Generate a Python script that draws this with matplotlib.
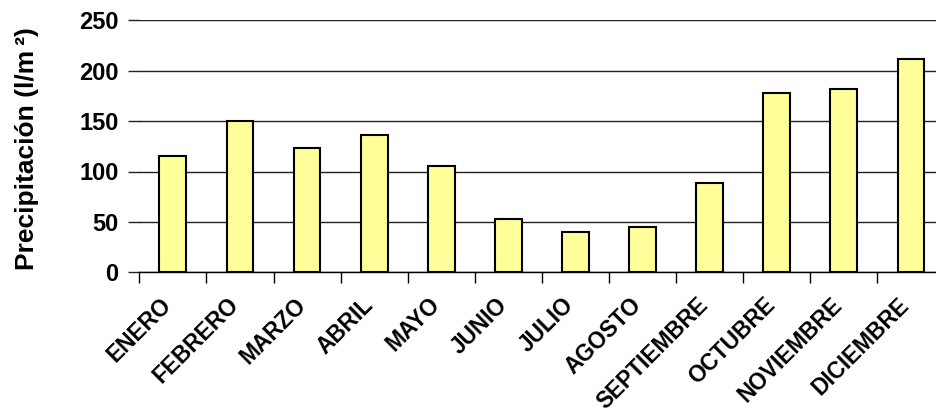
import matplotlib
matplotlib.use("Agg")
import matplotlib.pyplot as plt
import matplotlib.transforms as mtransforms
import numpy as np

months = ["ENERO", "FEBRERO", "MARZO", "ABRIL", "MAYO", "JUNIO", "JULIO",
          "AGOSTO", "SEPTIEMBRE", "OCTUBRE", "NOVIEMBRE", "DICIEMBRE"]
precip = [115, 150, 123, 136.5, 105, 53, 39.5, 45, 89, 178, 182, 212]
yticks = [0, 50, 100, 150, 200, 250]
ylabel = "Precipitación (l/m\u2009²)"

plt.rcParams['font.family'] = ['Liberation Sans', 'DejaVu Sans']

fig = plt.figure(figsize=(9.37, 4.17), dpi=100)
ax = fig.add_axes([139.3/937, 144.7/417, (944.5-139.3)/937, 252/417])

x = np.arange(len(months))
ax.bar(x, precip, width=0.4, color="#FFFF99", edgecolor="black", linewidth=1.5, zorder=3)

ax.set_xlim(-0.5, len(months) - 0.5)
ax.set_ylim(0, 250)
ax.set_yticks(yticks)
ax.set_yticklabels([str(v) for v in yticks], fontsize=17, fontweight="bold")
ax.yaxis.grid(True, color="#222222", linewidth=1.0, zorder=0)
ax.set_axisbelow(True)

ax.set_xticks(x)
ax.set_xticklabels(months, rotation=45, ha="right", rotation_mode="anchor",
                   fontsize=16.3, fontweight="bold")
ax.tick_params(axis="x", which="major", length=0, pad=15)
ax.set_xticks(np.arange(len(months)) - 0.5, minor=True)
ax.tick_params(axis="x", which="minor", length=8, width=1.0, direction="out")
ax.tick_params(axis="y", length=8, width=1.0, color="#222222", pad=7)

offset = mtransforms.ScaledTranslation(-13/100, 0, fig.dpi_scale_trans)
for lab in ax.get_xticklabels():
    lab.set_transform(lab.get_transform() + offset)

for s in ["top", "right", "left"]:
    ax.spines[s].set_visible(False)
ax.spines["bottom"].set_linewidth(1.0)

ax.set_ylabel(ylabel, fontsize=19, fontweight="bold")
ax.yaxis.set_label_coords(-0.125, 0.493)

fig.savefig("out.png", dpi=100)
